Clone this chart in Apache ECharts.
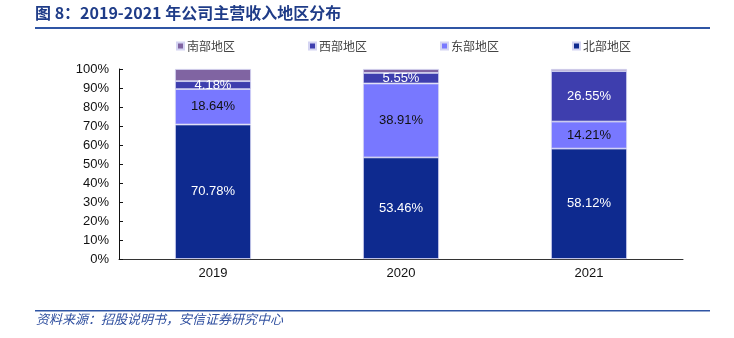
<!DOCTYPE html>
<html>
<head>
<meta charset="utf-8">
<script src="https://cdn.jsdelivr.net/npm/echarts@6/dist/echarts.min.js"></script>
<style>html,body{margin:0;padding:0;background:#fff}#c{width:734px;height:338px}</style>
</head>
<body>
<div id="c"></div>
<script>
var categories = ['2019', '2020', '2021'];
var north = [70.78, 53.46, 58.12];
var east = [18.64, 38.91, 14.21];
var west = [4.18, 5.55, 26.55];
var south = [6.40, 2.08, 1.12];
var yTicks = [0, 10, 20, 30, 40, 50, 60, 70, 80, 90, 100];

var chart = echarts.init(document.getElementById('c'));
var lblFont = 'Liberation Sans, Arial, sans-serif';
function mk(name, data, color, labelColor, showLabel) {
  return {
    name: name, type: 'bar', stack: 's', data: data, barWidth: 76,
    itemStyle: { color: color, borderColor: '#d4d4f2', borderWidth: 0.8 },
    label: { show: showLabel, position: 'inside', color: labelColor, fontSize: 13, fontFamily: lblFont,
      formatter: function (p) { return p.value.toFixed(2) + '%'; } }
  };
}
chart.setOption({
  animation: false,
  legend: {
    top: 35, left: 171, itemWidth: 7, itemHeight: 7, itemGap: 73, icon: 'rect',
    textStyle: { fontSize: 12, color: '#444', fontFamily: 'Noto Sans CJK SC', padding: [0, 0, 0, -2] },
    data: ['南部地区', '西部地区', '东部地区', '北部地区']
  },
  grid: { left: 119, right: 51, top: 69, bottom: 79 },
  xAxis: {
    type: 'category', data: categories,
    axisLine: { lineStyle: { color: '#333', width: 1 } },
    axisTick: { inside: true, length: 4, lineStyle: { color: '#333' } },
    axisLabel: { fontSize: 13, color: '#111', fontFamily: lblFont, margin: 8 }
  },
  yAxis: {
    type: 'value', min: 0, max: 100, interval: 10,
    axisLine: { show: true, lineStyle: { color: '#111', width: 1 } },
    axisTick: { show: true, inside: true, length: 4, lineStyle: { color: '#111' } },
    splitLine: { show: false },
    axisLabel: { fontSize: 13, color: '#111', fontFamily: lblFont, margin: 10,
      formatter: function (v) { return yTicks.indexOf(v) >= 0 ? v + '%' : ''; } }
  },
  series: [
    mk('北部地区', north, '#0E2A8F', '#fff', true),
    mk('东部地区', east, '#7878FF', '#111', true),
    mk('西部地区', west, '#3E3EAE', '#fff', true),
    mk('南部地区', south, '#8064A2', '#fff', false)
  ],
  graphic: [
    { type: 'text', left: 35, top: 5, style: { text: '图 8：2019-2021 年公司主营收入地区分布', fontSize: 16, fontWeight: 'bold', fill: '#1F3C88', fontFamily: 'Noto Sans CJK SC' } },
    { type: 'rect', shape: { x: 35, y: 27, width: 675, height: 2 }, style: { fill: '#2F55A4' } },
    { type: 'rect', shape: { x: 35, y: 310, width: 675, height: 1.5 }, style: { fill: '#2F55A4' } },
    { type: 'text', left: 36, top: 313, style: { text: '资料来源：招股说明书，安信证券研究中心', fontSize: 13, fontStyle: 'italic', fill: '#2F4F9F', fontFamily: 'Noto Sans CJK SC' } }
  ]
});
</script>
</body>
</html>
